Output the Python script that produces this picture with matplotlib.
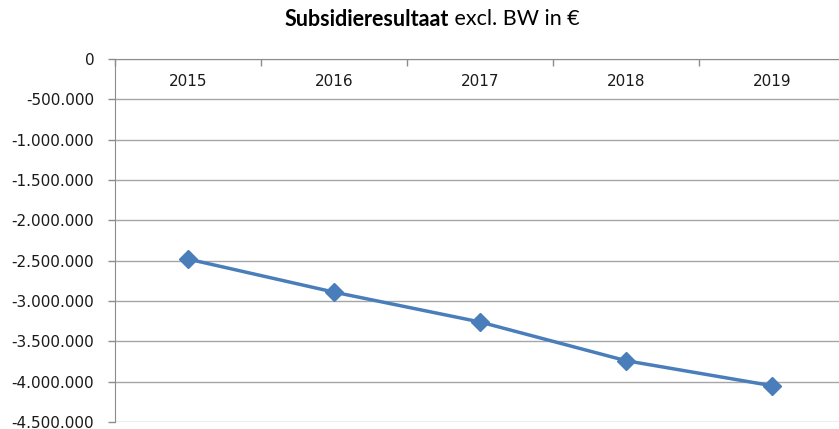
import matplotlib
matplotlib.use("Agg")
import matplotlib.pyplot as plt
from matplotlib.ticker import FuncFormatter, FixedLocator
import numpy as np

years = ["2015", "2016", "2017", "2018", "2019"]
values = [-2480000, -2890000, -3260000, -3740000, -4050000]
y_ticks = [0, -500000, -1000000, -1500000, -2000000, -2500000, -3000000, -3500000, -4000000, -4500000]

fig = plt.figure(figsize=(8.39, 4.29), dpi=100)
ax = fig.add_axes([115/839, 1-422/429, (845-115)/839, (422-59)/429])

x = np.arange(len(years))
ax.plot(x, values, color="#4A7EBB", lw=2.5, marker="D", markersize=9.5,
        markerfacecolor="#4A7EBB", markeredgecolor="#4A7EBB", zorder=3)

ax.set_xlim(-0.5, len(years) - 0.5)
ax.set_ylim(-4500000, 0)
ax.set_yticks(y_ticks)
ax.yaxis.set_major_formatter(FuncFormatter(lambda v, p: f"{int(v):,}".replace(",", ".")))
ax.grid(axis="y", color="#A6A6A6", lw=1.0)
ax.set_axisbelow(True)

# x axis at the top (crossing at 0); tick marks between categories
ax.xaxis.set_ticks_position("top")
ax.xaxis.set_major_locator(FixedLocator(np.arange(-0.5, len(years), 1.0)))
ax.xaxis.set_ticklabels([])
ax.tick_params(axis="x", direction="in", length=5, color="#8C8C8C", width=1)
ax.tick_params(axis="y", direction="out", length=5, color="#8C8C8C", width=1,
               labelsize=11, labelcolor="#1A1A1A", pad=10)
for i, yr in enumerate(years):
    ax.text(i, -280000, yr, ha="center", va="center", fontsize=11, color="#1A1A1A")

for s in ["right", "bottom"]:
    ax.spines[s].set_visible(False)
ax.spines["left"].set_color("#8C8C8C")
ax.spines["top"].set_color("#8C8C8C")

# title: bold part + normal part
fig.canvas.draw()
r = fig.canvas.get_renderer()
t1 = fig.text(0, 0, "Subsidieresultaat", fontsize=15.5, fontweight="bold", family="Lato")
t2 = fig.text(0, 0, " excl. BW in €", fontsize=15.5, family="Lato")
w1 = t1.get_window_extent(r).width / fig.bbox.width
x0 = 285/839
ty = 1 - 19/429
t1.set_position((x0, ty)); t1.set_va("center")
t2.set_position((x0 + w1, ty)); t2.set_va("center")

fig.savefig("out.png", dpi=100)
